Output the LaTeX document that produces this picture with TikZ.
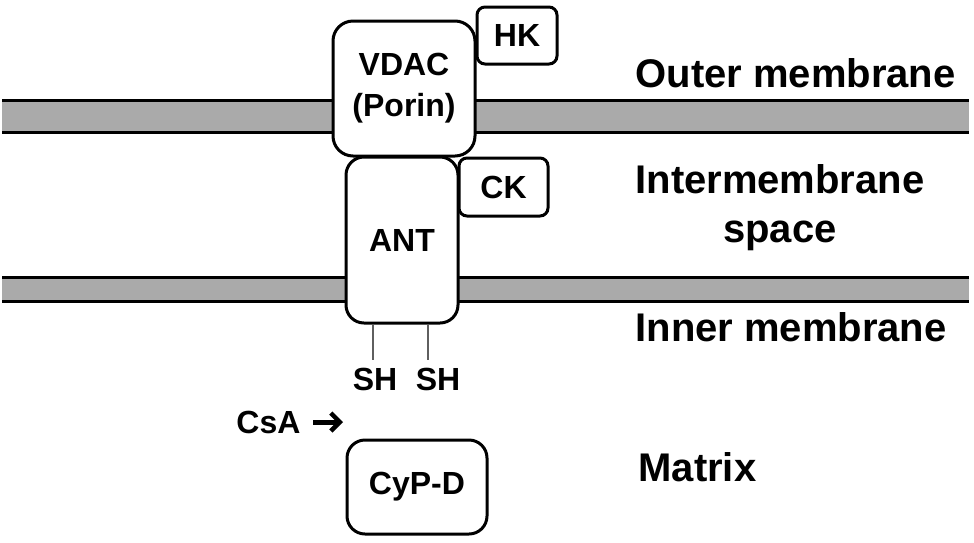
\documentclass[tikz,border=0pt]{standalone}
\usepackage{fontspec}
\setmainfont{Liberation Sans}
\usetikzlibrary{arrows.meta,arrows}
\usetikzlibrary{positioning}
\definecolor{memgray}{RGB}{170,170,170}
\definecolor{stalkgray}{RGB}{95,95,95}
\newcommand{\boxfont}{\fontsize{32}{41}\selectfont\bfseries}
\newcommand{\labfont}{\fontsize{40}{49}\selectfont\bfseries}

\begin{document}
\begin{tikzpicture}[x=1pt,y=-1pt,>={Straight Barb[length=9pt,width=18pt,line width=4.5pt]},line width=3pt]
 \tikzstyle{membrane}=[fill=memgray]
 \tikzstyle{membrane line}=[draw=black,line width=3pt]
 \tikzset{
 	protein node/.style={rectangle,draw=black,fill=white,rounded corners=20pt,font=\boxfont,align=center,inner sep=0pt},
 	enzyme node/.style={rectangle,draw=black,fill=white,rounded corners=8pt,font=\boxfont,inner sep=0pt},
 	sh node/.style={font=\boxfont,inner sep=0pt},
 	side node/.style={font=\labfont,anchor=west,align=center,inner sep=0pt}
 }
 \useasboundingbox (0,0) rectangle (974,542);

 % membranes
 \path[membrane] (2,100) rectangle (969,132);
 \path[membrane line] (2,100) -- (969,100) (2,132) -- (969,132);
 \path[membrane] (2,277) rectangle (969,301);
 \path[membrane line] (2,277) -- (969,277) (2,301) -- (969,301);

       \node[protein node,minimum width=142pt,minimum height=135pt] (VDAC) at (404,88.5) {VDAC\\(Porin)};
       \node[protein node,minimum width=112pt,minimum height=166pt,rounded corners=18pt] (ANT) at (402,240) {ANT};
       \node[enzyme node,minimum width=80pt,minimum height=57pt] (HK) at (517,35.5) {HK};
       \node[enzyme node,minimum width=89pt,minimum height=58pt] (CK) at (503.5,187) {CK};
       \node[protein node,minimum width=140pt,minimum height=94pt,rounded corners=18pt] (CyPD) at (417,487) {CyP-D};

       \node[sh node] (SH1) at (375,379) {SH};
       \node[sh node] (SH2) at (438,379) {SH};
       \coordinate (sh1end) at (373,360);
       \coordinate (sh2end) at (428,360);

       \node[sh node] (CsA) at (268.5,422) {CsA};
       \coordinate (csatail) at (313,422);
       \coordinate (csatip) at (343,422);

       \node[side node] (outer) at (634,73) {Outer membrane};
       \node[side node] (inter) at (634,207.5) {Intermembrane\\space};
       \node[side node] (inner) at (634,327) {Inner membrane};
       \node[side node] (matrix) at (637,467) {Matrix};

     \draw[stalkgray,line width=2pt]  (ANT.south -| sh1end) -- (sh1end);
     \draw[stalkgray,line width=2pt]  (ANT.south -| sh2end) -- (sh2end);
     \draw[->,line width=5pt]  (csatail) -- (csatip);
 \end{tikzpicture}
\end{document}
